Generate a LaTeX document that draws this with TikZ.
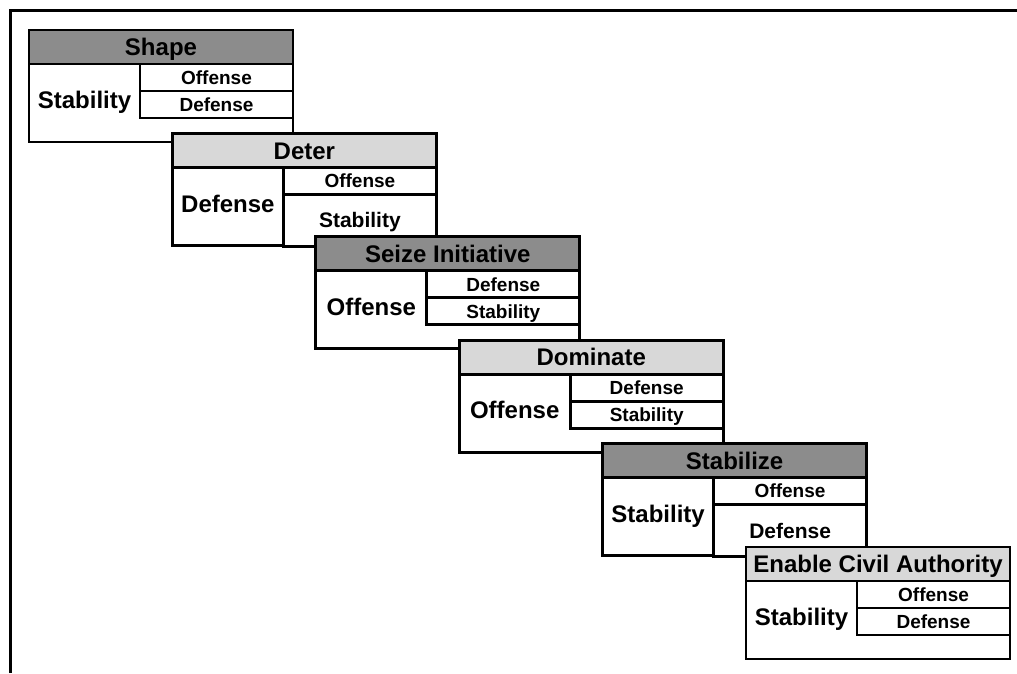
\documentclass[tikz,border=0pt]{standalone}
\usepackage{fontspec}
\setmainfont{Liberation Sans}
\usetikzlibrary{positioning}
\definecolor{headdark}{RGB}{140,140,140}
\definecolor{headlight}{RGB}{216,216,216}
\begin{document}
\begin{tikzpicture}[x=1pt, y=-1pt, line join=miter]
	\def\dx{143.4}
	\def\dy{103.4}
	\tikzset{frame/.style={line width=3pt},
		box/.style={draw, line width=2.7pt, inner sep=0pt, outer sep=0pt, minimum width=264pt, text depth=0pt},
		head/.style={box, minimum height=34pt, anchor=north west, text height=17.2pt, font=\fontsize{24}{28}\bfseries},
		body/.style={box, fill=white, minimum height=78pt},
		lab/.style={inner sep=0pt, text height=17.2pt, text depth=0pt, font=\fontsize{24}{28}\bfseries},
		rowshort/.style={box, fill=white, minimum width=153pt, minimum height=27pt, text height=13.7pt, font=\fontsize{19}{22}\bfseries},
		rowtall/.style={box, fill=white, minimum width=153pt, minimum height=52pt, text height=15.1pt, font=\fontsize{21}{24}\bfseries}}
	\useasboundingbox (0,0) rectangle (1017,673);
	\draw[frame] (10,673) -- (10,10) -- (1017,10);
	\foreach \name/\tone/\lft/\ra/\rb/\rs [count=\i from 0] in {
		Shape/headdark/Stability/Offense/Defense/rowshort,
		Deter/headlight/Defense/Offense/Stability/rowtall,
		Seize Initiative/headdark/Offense/Defense/Stability/rowshort,
		Dominate/headlight/Offense/Defense/Stability/rowshort,
		Stabilize/headdark/Stability/Offense/Defense/rowtall,
		Enable Civil Authority/headlight/Stability/Offense/Defense/rowshort}
	{
		\node[head, fill=\tone] (h\i) at ({29+\dx*\i}, {30+\dy*\i}) {\name};
		\node[body, below=0pt of h\i] (b\i) {};
		\node[rowshort, anchor=north east] (ra\i) at (b\i.north east) {\ra};
		\node[\rs, anchor=north] (rb\i) at (ra\i.south) {\rb};
		\node[lab] (l\i) at ([xshift=55.5pt, yshift=3pt]b\i.west) {\lft};
	}
\end{tikzpicture}
\end{document}
